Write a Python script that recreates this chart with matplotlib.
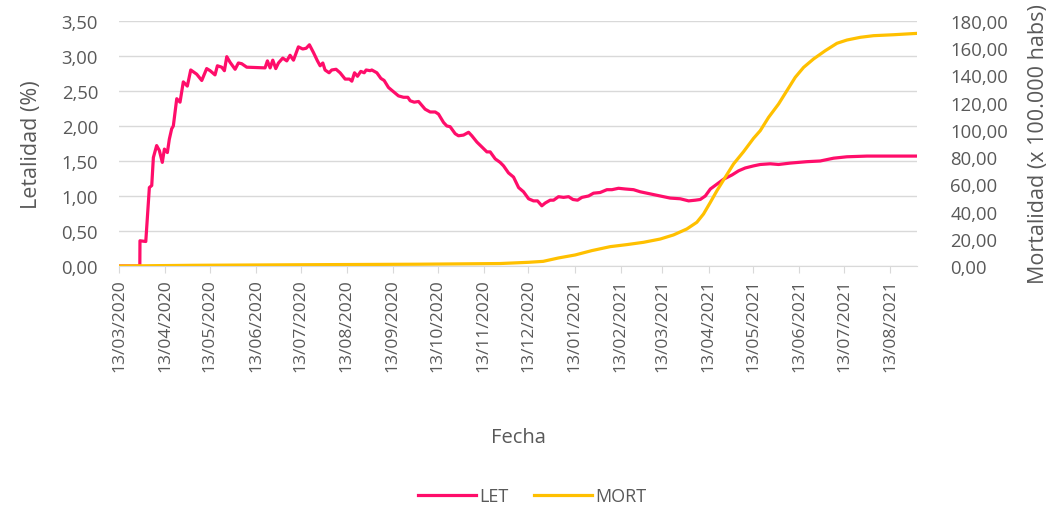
import matplotlib
matplotlib.use("Agg")
import matplotlib.pyplot as plt
import matplotlib.dates as mdates
from matplotlib.ticker import FuncFormatter
import pandas as pd

# dias desde 13/03/2020 y valores
inicio = pd.Timestamp("2020-03-13")
fin = pd.Timestamp("2021-08-31")

let_dia = [0, 14, 14.1, 18, 20.4, 22, 23.1, 25.3, 27.1, 29.1, 30.5, 32.5, 33.8, 35.4,
           36.5, 38.8, 41, 43.2, 45.9, 48.2, 52.2, 55.6, 58.9, 61.2, 64.5, 66.1, 69,
           70.8, 72.4, 74.6, 78, 80.2, 82.4, 85.8, 98.1, 99.7, 101.5, 103.3, 105.3,
           107.1, 110, 112.7, 114.9, 117.2, 120.5, 123.4, 125.7, 127.9, 130.6, 133.3,
           135.1, 136.9, 138.4, 141.1, 142.9, 145.8, 148.5, 151.9, 154.8, 156.4, 158.2,
           160.2, 162.4, 164.7, 166, 168.7, 169.8, 173.2, 175.9, 178.1, 181, 184.4,
           187.7, 191.1, 194, 195.6, 198.3, 201.2, 205.6, 209, 212.4, 214.6, 218,
           220.2, 222.4, 225.8, 228, 231.4, 234.8, 237, 240.4, 243.7, 247.1, 249.3,
           252.7, 256, 258.3, 261.6, 265, 268.4, 271.7, 275.1, 278.4, 281.1, 284,
           286.3, 289.6, 291.9, 295.2, 298.6, 302, 304.9, 308, 310.9, 315.4, 318.7,
           323.2, 327.7, 331.1, 335.5, 340, 345.6, 350.1, 356.8, 363.5, 370.2, 377,
           382.6, 387.1, 390.4, 393.8, 397.2, 401.6, 406.1, 411.7, 416.2, 420.6,
           426.2, 430.7, 437.4, 443, 450.9, 462, 471, 480, 488.9, 502.4, 513.6, 536]
let_val = [0, 0, 0.36, 0.35, 1.12, 1.15, 1.55, 1.72, 1.65, 1.48, 1.67, 1.62, 1.81, 1.96,
           2.0, 2.39, 2.34, 2.63, 2.57, 2.8, 2.74, 2.65, 2.82, 2.79, 2.73, 2.86, 2.84,
           2.79, 2.99, 2.91, 2.81, 2.9, 2.89, 2.84, 2.83, 2.93, 2.83, 2.94, 2.82,
           2.9, 2.97, 2.93, 3.01, 2.94, 3.13, 3.1, 3.11, 3.16, 3.05, 2.93,
           2.86, 2.9, 2.8, 2.76, 2.8, 2.81, 2.76, 2.67, 2.67, 2.64, 2.76,
           2.71, 2.78, 2.76, 2.8, 2.79, 2.8, 2.76, 2.68, 2.65, 2.55, 2.49,
           2.43, 2.41, 2.41, 2.36, 2.34, 2.35, 2.24, 2.2, 2.2, 2.17, 2.05,
           2.0, 1.99, 1.89, 1.86, 1.87, 1.91, 1.86, 1.77, 1.7, 1.63, 1.63,
           1.53, 1.48, 1.43, 1.33, 1.27, 1.12, 1.06, 0.96, 0.93, 0.93, 0.86,
           0.9, 0.94, 0.94, 0.99, 0.98, 0.99, 0.95, 0.94, 0.98, 1.0, 1.04,
           1.05, 1.09, 1.09, 1.11, 1.1, 1.09, 1.06, 1.03, 1.0, 0.97, 0.96,
           0.93, 0.94, 0.95, 1.0, 1.1, 1.17, 1.24, 1.3, 1.36, 1.4,
           1.43, 1.45, 1.46, 1.45, 1.47, 1.49, 1.5, 1.54, 1.56, 1.57, 1.57, 1.57]

mort_dia = [0, 50, 120, 200, 256, 275, 284.9, 295.2, 306.4, 317.6, 329.9, 341.1,
            352.3, 363.5, 372.4, 381.4, 388.1, 392.6, 397.2, 401.6, 407.2, 412.8,
            419.5, 426.2, 430.7, 436.3, 443, 448.6, 454.2, 459.8, 466.5, 474.4,
            482.2, 488.9, 497.9, 506.8, 520.3, 536]
mort_val = [0, 0.5, 0.9, 1.3, 1.8, 2.7, 3.4, 5.9, 8.1, 11.3, 14.2, 15.7,
            17.4, 19.8, 22.8, 27.2, 32.1, 38.2, 46.8, 55.3, 65.2, 75.0,
            84.0, 93.8, 99.4, 109.2, 119.0, 128.8, 138.6, 145.9, 152.1, 158.2,
            163.6, 166.0, 168.0, 169.2, 169.9, 170.9]

let_fecha = inicio + pd.to_timedelta(let_dia, unit="D")
mort_fecha = inicio + pd.to_timedelta(mort_dia, unit="D")

gris = "#595959"
linea = "#D9D9D9"
rosa = "#FF0D6A"
amarillo = "#FFC000"

plt.rcParams["font.family"] = ["Open Sans", "DejaVu Sans"]

fig = plt.figure(figsize=(10.52, 5.10), dpi=100)
ax = fig.add_axes([0.1131, 0.4765, 0.7586, 0.4804])
ax2 = ax.twinx()

l1, = ax.plot(let_fecha, let_val, color=rosa, lw=2.3, label="LET", zorder=3)
l2, = ax2.plot(mort_fecha, mort_val, color=amarillo, lw=2.3, label="MORT", zorder=3)

ax.set_xlim(inicio, fin)
ax.set_ylim(0, 3.5)
ax2.set_ylim(0, 180)
ax.set_yticks([i * 0.5 for i in range(8)])
ax2.set_yticks(range(0, 181, 20))

coma = FuncFormatter(lambda v, p: f"{v:.2f}".replace(".", ","))
ax.yaxis.set_major_formatter(coma)
ax2.yaxis.set_major_formatter(coma)

ax.set_xticks(pd.date_range("2020-03-13", "2021-08-13", freq=pd.DateOffset(months=1)))
ax.xaxis.set_major_formatter(mdates.DateFormatter("%d/%m/%Y"))
plt.setp(ax.get_xticklabels(), rotation=90)

ax.grid(axis="y", color=linea, lw=1)
ax.set_axisbelow(True)
for a in (ax, ax2):
    for s in ("left", "right", "top", "bottom"):
        a.spines[s].set_visible(False)
ax.spines["bottom"].set_visible(True)
ax.spines["bottom"].set_color(linea)
ax.tick_params(axis="x", colors=gris, labelsize=12.6, length=5, color=linea, pad=4)
ax.tick_params(axis="y", colors=gris, labelsize=13.3, length=0, pad=15)
ax2.tick_params(axis="y", colors=gris, labelsize=13.3, length=0, pad=24)

ax.set_xlabel("Fecha", color=gris, fontsize=14.5, labelpad=40)
ax.set_ylabel("Letalidad (%)", color=gris, fontsize=15.5, labelpad=14)
ax2.set_ylabel("Mortalidad (x 100.000 habs)", color=gris, fontsize=15.5, labelpad=14)

fig.legend(handles=[l1, l2], loc="center", bbox_to_anchor=(0.506, 0.025), ncol=2,
           frameon=False, fontsize=13, labelcolor=gris, handlelength=3.2,
           handletextpad=0.2, columnspacing=1.4)

fig.savefig("out.png", dpi=100)
